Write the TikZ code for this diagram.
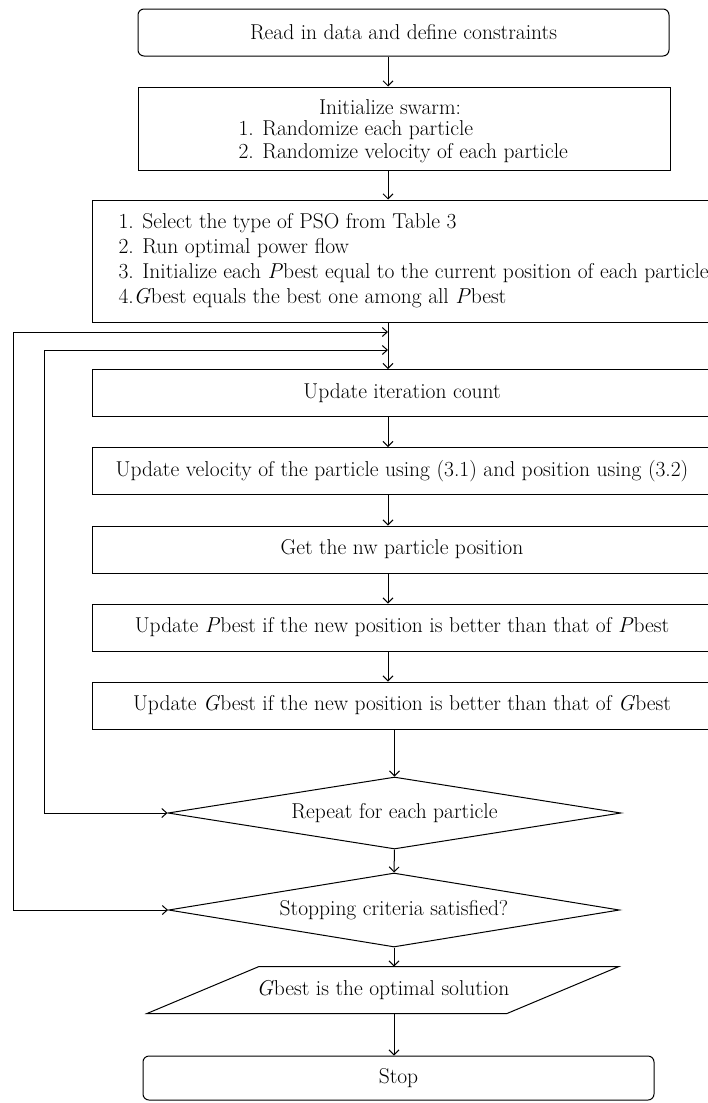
\documentclass[tikz,border=0pt]{standalone}
\usepackage{fontspec}
\usetikzlibrary{arrows.meta,shapes.geometric}
\begin{document}
\begin{tikzpicture}[x=1pt,y=-1pt,line width=1pt,
  font=\fontsize{21.5}{25}\selectfont,
  box/.style={draw,rectangle,minimum height=47,inner sep=0},
  roundbox/.style={box,rounded corners=6},
  decision/.style={draw,diamond,aspect=6.3,inner sep=0},
  arr/.style={-{Straight Barb[length=5pt,width=10pt]}},
  both/.style={{Straight Barb[length=5pt,width=9pt]}-{Straight Barb[length=5pt,width=9pt]}}]
  \useasboundingbox (0,0) rectangle (707,1103);
  \coordinate (axis) at (388,0);
  \node[roundbox,minimum width=531] (start) at (403.5,32.5) {Read in data and define constraints};
  \node[box,minimum width=532,minimum height=83] (swarm) at (404,128.5) {};
  \node[inner sep=0] (swarmhead) at (390,107) {Initialize swarm:};
  \node[anchor=west,align=left,inner sep=0,font=\fontsize{21.5}{23}\selectfont] (swarmlist) at (238,142) {1. Randomize each particle\\2. Randomize velocity of each particle};
  \node[box,minimum width=628,minimum height=122] (init) at (406,261) {};
  \node[anchor=west,align=left,inner sep=0] (initlist) at (118,261) {1. Select the type of PSO from Table 3\\2. Run optimal power flow\\3. Initialize each \textit{P}best equal to the current position of each particle\\4.\textit{G}best equals the best one among all \textit{P}best};
  \node[box,minimum width=620] (count) at (402,393) {Update iteration count};
  \node[box,minimum width=620] (velocity) at (402,471) {Update velocity of the particle using (3.1) and position using (3.2)};
  \node[box,minimum width=620] (newpos) at (402,549.5) {Get the nw particle position};
  \node[box,minimum width=620] (pbest) at (402,627.5) {Update \textit{P}best if the new position is better than that of \textit{P}best};
  \node[box,minimum width=620] (gbest) at (402,705.5) {Update \textit{G}best if the new position is better than that of \textit{G}best};
  \node[decision,minimum width=453,minimum height=72] (repeat) at (394.5,813) {Repeat for each particle};
  \node[decision,minimum width=451,minimum height=74] (stopq) at (394,910) {Stopping criteria satisfied?};
  \node[minimum width=359,minimum height=46,inner sep=0] (optimal) at (383,990) {\textit{G}best is the optimal solution};
  \draw ([xshift=56]optimal.north west) -- ([xshift=56]optimal.north east) -- ([xshift=-56]optimal.south east) -- ([xshift=-56]optimal.south west) -- cycle;
  \node[roundbox,minimum width=511,minimum height=44] (stop) at (398.5,1078) {Stop};
  \draw[arr] (start.south -| axis) -- (swarm.north -| axis);
  \draw[arr] (swarm.south -| axis) -- (init.north -| axis);
  \draw[arr] (init.south -| axis) -- (count.north -| axis);
  \draw[arr] (count.south -| axis) -- (velocity.north -| axis);
  \draw[arr] (velocity.south -| axis) -- (newpos.north -| axis);
  \draw[arr] (newpos.south -| axis) -- (pbest.north -| axis);
  \draw[arr] (pbest.south -| axis) -- (gbest.north -| axis);
  \draw[arr] (repeat.north |- gbest.south) -- (repeat.north);
  \draw[arr] (repeat.south) -- (stopq.north);
  \draw[arr] (stopq.south) -- (stopq.south |- optimal.north);
  \draw[arr] (stopq.south |- optimal.south) -- (stopq.south |- stop.north);
  \coordinate (inner) at (44,350);
  \coordinate (outer) at (13,332);
  \draw[both] (repeat.west) -| (inner) -- (inner -| axis);
  \draw[both] (stopq.west) -| (outer) -- (outer -| axis);
\end{tikzpicture}
\end{document}
